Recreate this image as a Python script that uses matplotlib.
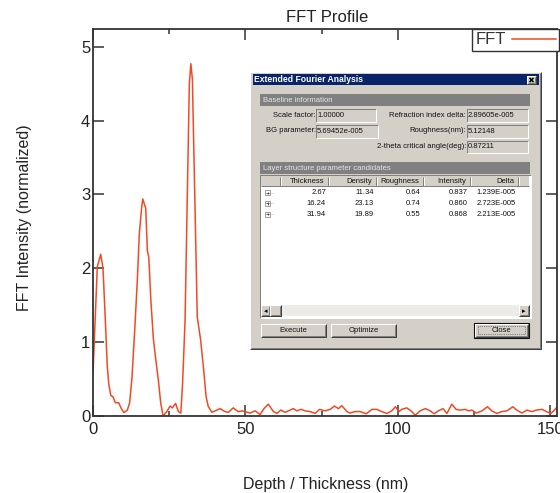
import matplotlib
matplotlib.use('Agg')
import matplotlib.pyplot as plt
from matplotlib.patches import Rectangle

plt.rcParams['font.family'] = ['Liberation Sans', 'DejaVu Sans']

# ---------------- data ----------------
depth_nm = [0.0, 1.41, 2.53, 3.28, 4.04, 4.69, 5.15, 5.81, 6.56, 7.32, 8.42, 9.30,
            10.17, 11.26, 12.03, 12.8, 13.68, 14.54, 15.2, 15.98, 16.31, 17.3, 17.83,
            18.3, 19.0, 19.8, 20.6, 21.4, 22.2, 23.0, 24.2, 25.3, 26.0, 27.1, 28.0,
            28.8, 29.4, 30.2, 31.6, 32.1, 32.6, 34.2, 35.3, 36.2, 37.1, 37.8, 39.0,
            41.7, 43.3, 44.4, 46.0, 47.6, 49.0, 51.5, 53.2, 54.8, 56.1, 57.5, 59.2,
            60.3, 61.6, 63.0, 64.7, 65.7, 66.9, 68.2, 69.6, 71.2, 72.9, 74.3, 76.1,
            77.8, 79.2, 80.5, 81.6, 83.3, 84.3, 86.0, 87.6, 89.6, 91.5, 93.1, 94.7,
            96.4, 98.0, 99.2, 100.4, 101.3, 102.9, 104.3, 105.7, 107.3, 109.0, 110.6,
            111.9, 113.3, 114.8, 116.1, 117.7, 119.1, 120.4, 122.1, 123.2, 124.3,
            125.7, 127.6, 129.4, 130.8, 132.5, 134.1, 135.8, 137.7, 139.0, 140.7,
            142.3, 144.0, 145.4, 147.3, 148.7, 150.2, 151.6, 152.2]
intensity = [0.58, 2.02, 2.19, 2.0, 1.30, 0.67, 0.44, 0.28, 0.26, 0.18, 0.18, 0.10,
             0.045, 0.08, 0.18, 0.53, 1.16, 1.84, 2.47, 2.83, 2.94, 2.81, 2.24,
             2.15, 1.55, 1.05, 0.76, 0.50, 0.18, 0.0, 0.06, 0.135, 0.11, 0.17, 0.06,
             0.04, 0.45, 1.30, 4.5, 4.77, 4.56, 1.34, 1.03, 0.67, 0.26, 0.13, 0.05,
             0.10, 0.06, 0.05, 0.11, 0.06, 0.07, 0.04, 0.07, 0.02, 0.10, 0.16, 0.06,
             0.035, 0.08, 0.05, 0.08, 0.10, 0.07, 0.09, 0.07, 0.06, 0.035, 0.09, 0.07,
             0.09, 0.135, 0.10, 0.14, 0.06, 0.04, 0.06, 0.06, 0.03, 0.09, 0.09, 0.06,
             0.035, 0.07, 0.125, 0.06, 0.09, 0.11, 0.07, 0.01, 0.07, 0.10, 0.07,
             0.03, 0.07, 0.10, 0.035, 0.16, 0.09, 0.08, 0.09, 0.07, 0.08,
             0.04, 0.07, 0.125, 0.07, 0.035, 0.06, 0.07, 0.125, 0.08, 0.04,
             0.08, 0.06, 0.08, 0.09, 0.06, 0.035, 0.09, 0.12]

x_major = [0, 50, 100, 150]
x_minor = [25, 75, 125]
y_major = [0, 1, 2, 3, 4, 5]

chart_title = 'FFT Profile'
x_label = 'Depth / Thickness (nm)'
y_label = 'FFT Intensity (normalized)'
series_name = 'FFT'

dialog_title = 'Extended Fourier Analysis'
baseline_header = 'Baseline information'
baseline_labels = ['Scale factor:', 'BG parameter:', 'Refraction index delta:',
                   'Roughness(nm):', '2-theta critical angle(deg):']
baseline_values = ['1.00000', '5.69452e-005', '2.89605e-005', '5.12148', '0.87211']
layer_header = 'Layer structure parameter candidates'
table_columns = ['Thickness', 'Density', 'Roughness', 'Intensity', 'Delta']
col_thickness = ['2.67', '16.24', '31.94']
col_density = ['11.34', '23.13', '19.89']
col_roughness = ['0.64', '0.74', '0.55']
col_intensity = ['0.837', '0.860', '0.868']
col_delta = ['1.239E-005', '2.723E-005', '2.213E-005']
button_labels = ['Execute', 'Optimize', 'Close']

# ---------------- figure ----------------
W, H = 560, 493
fig = plt.figure(figsize=(W / 100, H / 100), dpi=100)
fig.patch.set_facecolor('white')

ax = fig.add_axes([93 / W, 1 - 416 / H, (557 - 93) / W, (416 - 29) / H])
ax.plot(depth_nm, intensity, color='#f04a25', lw=1.1, label=series_name,
        solid_joinstyle='round')
ax.set_xlim(0, 152.2)
ax.set_ylim(0, 5.24)
ax.set_xticks(x_major)
ax.set_xticks(x_minor, minor=True)
ax.set_yticks(y_major)
ax.tick_params(which='both', direction='in', top=True, right=True,
               width=1.1, color='#333333', labelsize=12, labelcolor='#222222')
ax.tick_params(which='major', length=7.8)
ax.tick_params(which='minor', length=3.8)
ax.tick_params(axis='x', pad=4)
ax.tick_params(axis='y', pad=2)
for s in ax.spines.values():
    s.set_linewidth(1.3)
    s.set_color('#333333')

leg = ax.legend(loc='upper left', bbox_to_anchor=(472 / W, 1 - 29 / H),
                bbox_transform=fig.transFigure, frameon=True, fancybox=False,
                edgecolor='#333333', framealpha=1, fontsize=12, markerfirst=False,
                handlelength=2.6, handletextpad=0.4, borderpad=0.2, borderaxespad=0)
leg.get_frame().set_linewidth(1.0)
for t in leg.get_texts():
    t.set_color('#333333')

fig.text(327 / W, 1 - 18 / H, chart_title, ha='center', va='center', fontsize=12,
         color='#222222')
fig.text(326 / W, 1 - 485 / H, x_label, ha='center', va='center', fontsize=11.5,
         color='#222222')
fig.text(25 / W, 1 - 218 / H, y_label, ha='center', va='center', fontsize=11.5,
         rotation=90, color='#222222')

# ---------------- dialog overlay (pixel coordinates) ----------------
ov = fig.add_axes([0, 0, 1, 1], zorder=5)
ov.set_xlim(0, W)
ov.set_ylim(H, 0)
ov.axis('off')

BG = '#d4d0c8'
PX = 0.72


def rect(x0, y0, x1, y1, fc, ec='none', lw=0, ls='-'):
    ov.add_patch(Rectangle((x0, y0), x1 - x0, y1 - y0, facecolor=fc,
                           edgecolor=ec, lw=lw, ls=ls))


def line(xs, ys, c, lw=PX, ls='-'):
    ov.plot(xs, ys, color=c, lw=lw, ls=ls, solid_capstyle='butt')


def sunken(x0, y0, x1, y1, fc=BG):
    rect(x0, y0, x1, y1, fc)
    line([x0, x0, x1], [y1, y0, y0], '#808080')
    line([x0, x1, x1], [y1, y1, y0], '#ffffff')


def raised(x0, y0, x1, y1, fc=BG, dark='#404040'):
    rect(x0, y0, x1, y1, fc)
    line([x0, x0, x1], [y1, y0, y0], '#ffffff')
    line([x0, x1, x1], [y1, y1, y0], dark)
    line([x0 + 1, x1 - 1, x1 - 1], [y1 - 1, y1 - 1, y0 + 1], '#808080')


FS = 5.5
# frame
raised(250, 72, 541, 349)
rect(253, 74, 538.5, 85, '#0a246a')
ov.text(254, 79.7, dialog_title, color='white', fontsize=6.2, fontweight='bold',
        va='center', ha='left')
raised(527, 76, 536, 84)
line([529.5, 533.5], [77.8, 82.2], 'black', lw=1.1)
line([529.5, 533.5], [82.2, 77.8], 'black', lw=1.1)

# baseline information
rect(260, 94, 530, 106, '#808080')
ov.text(263, 100.3, baseline_header, color='#e6e6e6', fontsize=FS, va='center')
label_pos = [(316, 115.5), (316, 131), (466, 115.5), (466, 131), (466, 147)]
box_pos = [(316, 109, 376, 121.5), (316, 125, 378, 137.5), (467, 109, 528, 121.5),
           (467, 125, 528, 137.5), (467, 140.5, 528, 153)]
for lab, val, (lx, ly), (bx0, by0, bx1, by1) in zip(baseline_labels, baseline_values,
                                                   label_pos, box_pos):
    ov.text(lx, ly, lab, fontsize=FS, ha='right', va='center', color='#111111')
    sunken(bx0, by0, bx1, by1)
    ov.text(bx0 + 1, (by0 + by1) / 2, val, fontsize=FS, ha='left', va='center',
            color='#111111')

# layer structure list
rect(260, 162, 530, 174, '#808080')
ov.text(263, 168.3, layer_header, color='#e6e6e6', fontsize=FS, va='center')
sunken(259.5, 174.5, 530.5, 317.5, 'white')
rect(261, 176, 529, 186, BG)
dividers = [280, 328, 376, 423, 470, 518]
for d in dividers:
    line([d, d], [176.5, 185.5], '#808080')
    line([d + 1, d + 1], [176.5, 185.5], '#ffffff')
line([261, 529], [186, 186], '#808080')
col_rights = dividers[1:]
for name, cr in zip(table_columns, col_rights):
    ov.text(cr - 4, 181.3, name, fontsize=FS, ha='right', va='center', color='#111111')
row_y = [192.7, 203.3, 214]
columns = [col_thickness, col_density, col_roughness, col_intensity, col_delta]
for i, y in enumerate(row_y):
    rect(265, y - 2.5, 270, y + 2.5, 'white', ec='#8c8c8c', lw=0.6)
    line([266.3, 268.7], [y, y], '#333333', lw=0.6)
    line([267.5, 267.5], [y - 1.2, y + 1.2], '#333333', lw=0.6)
    line([270, 273], [y, y], '#999999', lw=0.6, ls=':')
    for col, cr in zip(columns, col_rights):
        ov.text(cr - 2, y, col[i], fontsize=FS, ha='right', va='center',
                color='#111111')

# horizontal scrollbar
rect(261, 305, 529, 316, '#ecebe7')
raised(261, 305, 270, 316)
ov.text(265.5, 310.7, '◂', fontsize=5, ha='center', va='center', color='black',
        family='DejaVu Sans')
raised(270, 305, 281, 316)
raised(519, 305, 528.5, 316)
ov.text(523.8, 310.7, '▸', fontsize=5, ha='center', va='center', color='black',
        family='DejaVu Sans')

# buttons
btn_pos = [(261, 323.5, 326, 337), (331, 323.5, 396, 337), (474.5, 323.5, 528, 337)]
for lab, (x0, y0, x1, y1) in zip(button_labels, btn_pos):
    raised(x0, y0, x1, y1)
    ov.text((x0 + x1) / 2, (y0 + y1) / 2 + 0.3, lab, fontsize=FS, ha='center',
            va='center', color='#111111')
# default button border + focus rectangle on Close
x0, y0, x1, y1 = btn_pos[2]
rect(x0 - 0.5, y0 - 0.5, x1 + 0.5, y1 + 0.5, 'none', ec='#111111', lw=0.8)
rect(x0 + 3, y0 + 2.5, x1 - 3.5, y1 - 3, 'none', ec='#333333', lw=0.5, ls=':')

fig.savefig('out.png', dpi=100)
